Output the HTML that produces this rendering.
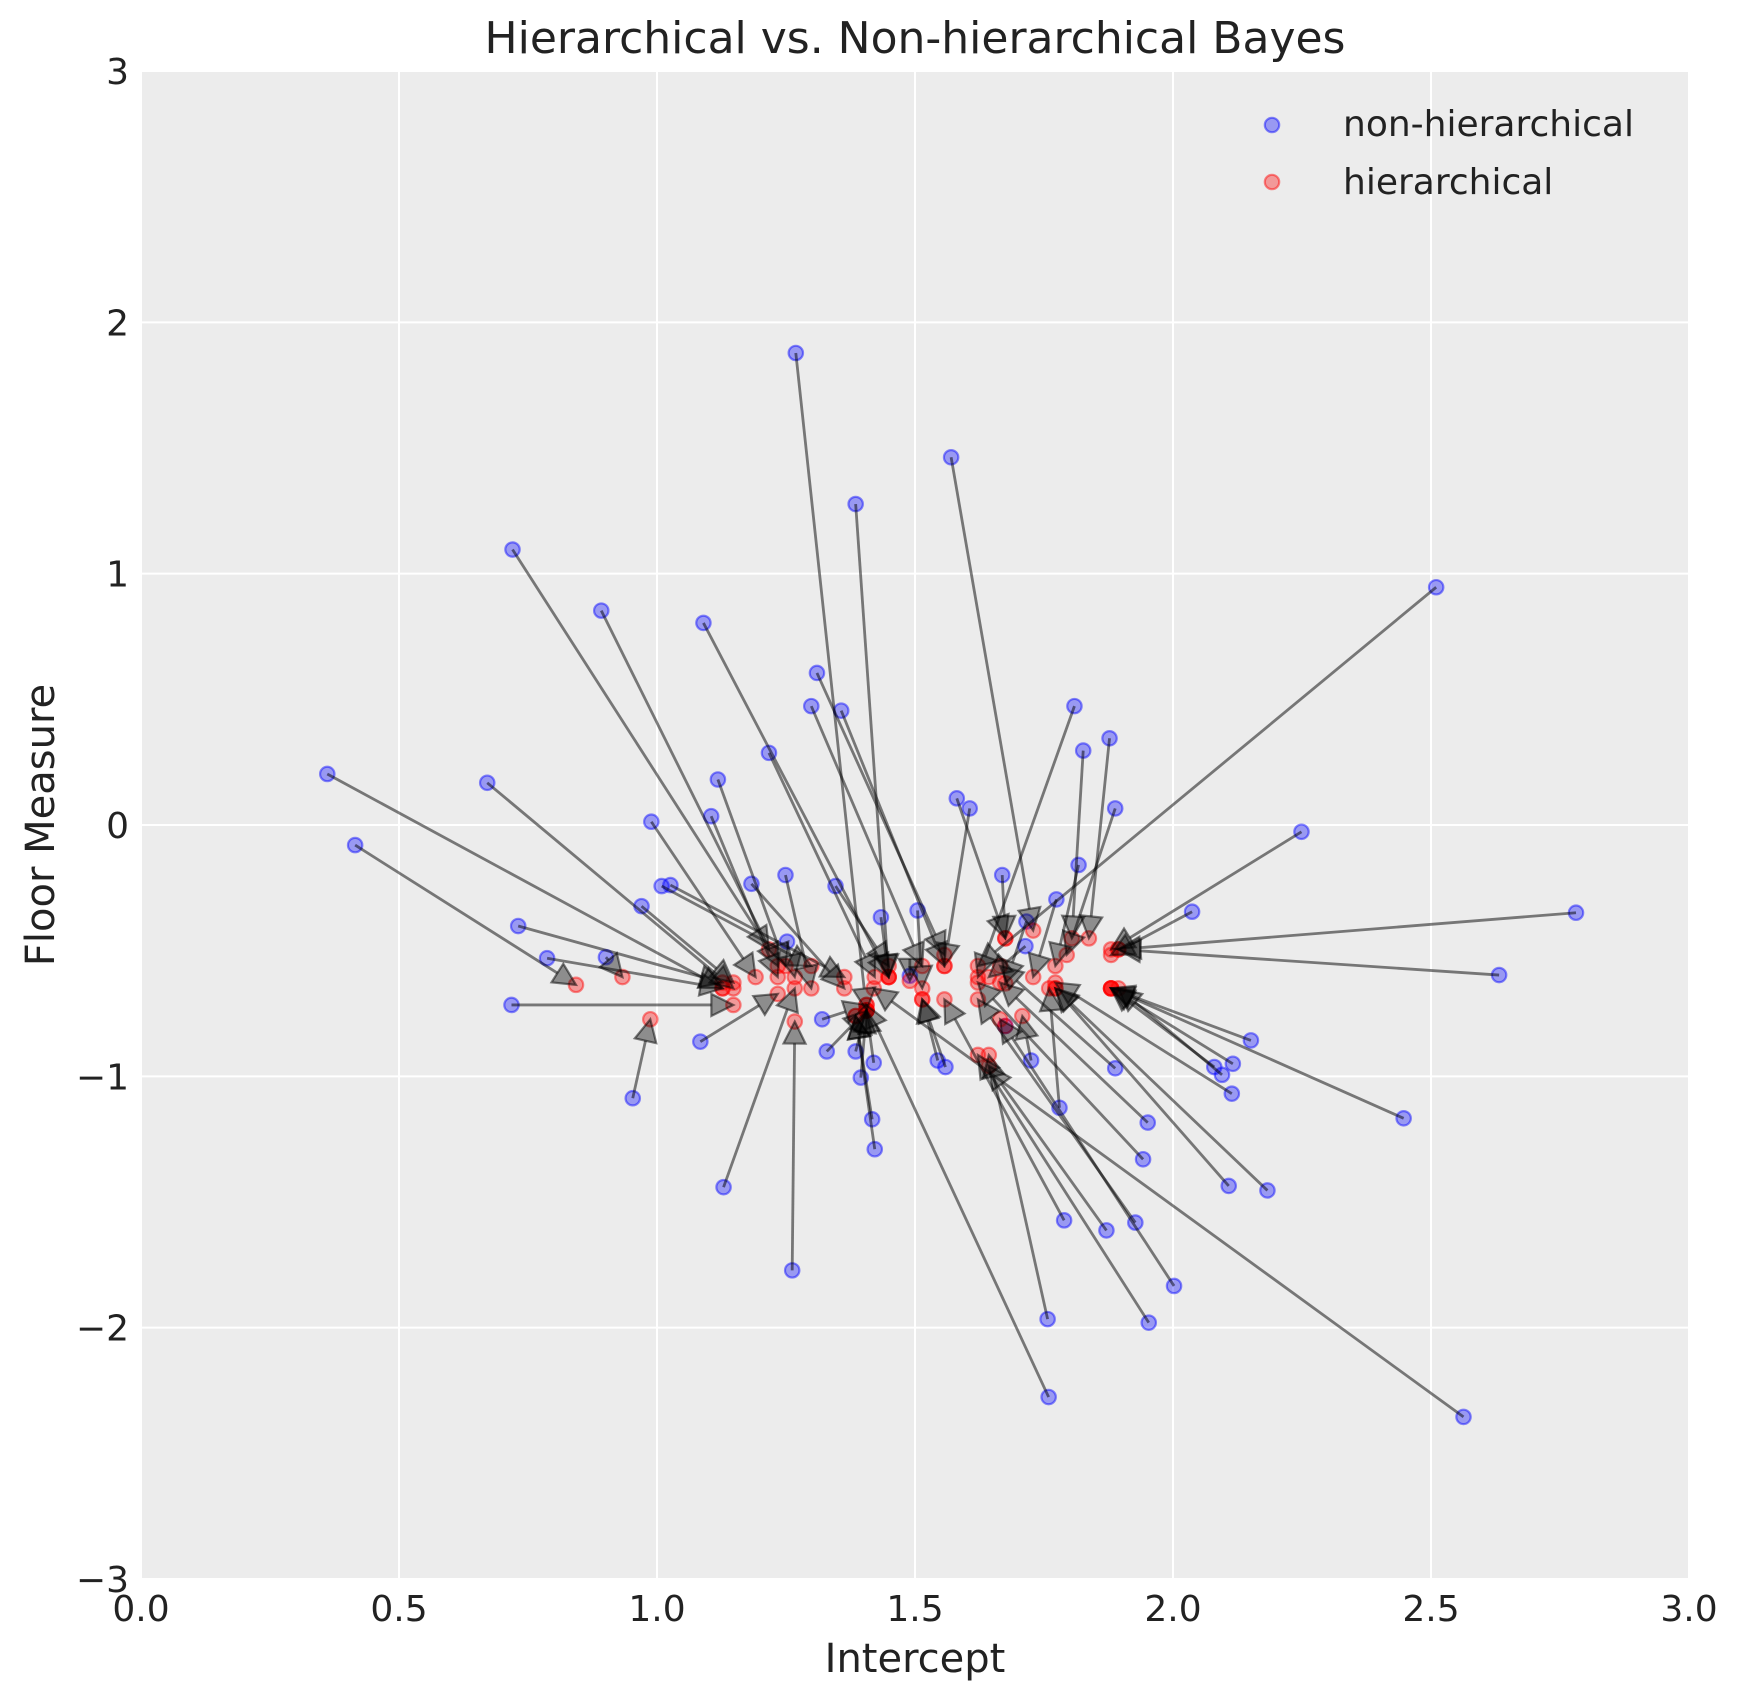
<!DOCTYPE html>
<html><head><meta charset="utf-8"><style>
body{margin:0;background:#fff;font-family:"Liberation Sans","DejaVu Sans",sans-serif;}
</style></head><body>
<svg id="chart" width="1741" height="1701" xmlns="http://www.w3.org/2000/svg" font-family="DejaVu Sans, Liberation Sans, sans-serif"></svg>
<script>
const nhX=[1.269,1.570,1.385,0.720,0.892,1.090,2.510,1.310,1.299,1.357,0.361,0.415,0.671,0.731,0.787,0.901,0.718,0.953,0.989,0.970,1.009,1.026,1.105,1.118,1.217,1.183,1.249,1.252,1.346,1.434,1.505,1.581,1.606,1.669,1.809,1.826,1.877,1.888,1.817,1.774,2.249,2.037,2.781,2.632,2.447,2.151,2.116,2.095,2.080,2.114,2.183,2.108,1.951,1.888,1.942,2.002,1.927,1.953,1.871,1.789,1.757,1.759,2.563,1.129,1.262,1.084,1.422,1.417,1.329,1.385,1.544,1.559,1.725,1.716,1.714,1.320,1.395,1.420,1.780,1.675,1.490];
const nhY=[1.878,1.463,1.277,1.096,0.853,0.804,0.946,0.605,0.473,0.455,0.203,-0.080,0.168,-0.402,-0.530,-0.526,-0.716,-1.087,0.013,-0.323,-0.243,-0.239,0.035,0.181,0.287,-0.234,-0.199,-0.464,-0.243,-0.367,-0.340,0.106,0.066,-0.199,0.473,0.296,0.345,0.066,-0.159,-0.296,-0.027,-0.345,-0.349,-0.597,-1.167,-0.857,-0.950,-0.994,-0.963,-1.069,-1.454,-1.436,-1.184,-0.968,-1.330,-1.834,-1.582,-1.980,-1.613,-1.573,-1.966,-2.276,-2.355,-1.441,-1.772,-0.862,-1.290,-1.171,-0.901,-0.901,-0.937,-0.963,-0.937,-0.384,-0.482,-0.773,-1.005,-0.946,-1.125,-0.800,-0.600];
const hX=[1.406,1.729,1.449,1.217,1.234,1.449,1.622,1.557,1.514,1.557,1.127,0.843,1.148,1.127,1.127,0.933,1.148,0.987,1.191,1.148,1.299,1.363,1.234,1.249,1.422,1.363,1.299,1.267,1.449,1.449,1.514,1.675,1.557,1.675,1.622,1.804,1.837,1.794,1.772,1.729,1.880,1.880,1.894,1.894,1.880,1.880,1.880,1.894,1.880,1.772,1.772,1.772,1.665,1.665,1.622,1.665,1.622,1.622,1.643,1.557,1.643,1.406,1.420,1.267,1.267,1.234,1.385,1.385,1.406,1.406,1.514,1.514,1.708,1.675,1.643,1.406,1.406,1.406,1.760,1.675,1.490];
const hY=[-0.738,-0.420,-0.605,-0.495,-0.561,-0.605,-0.561,-0.517,-0.561,-0.561,-0.650,-0.636,-0.650,-0.627,-0.650,-0.605,-0.716,-0.773,-0.605,-0.627,-0.561,-0.605,-0.605,-0.561,-0.605,-0.650,-0.650,-0.605,-0.561,-0.605,-0.650,-0.451,-0.561,-0.451,-0.605,-0.451,-0.451,-0.517,-0.561,-0.605,-0.495,-0.517,-0.495,-0.495,-0.650,-0.650,-0.650,-0.650,-0.650,-0.627,-0.650,-0.650,-0.627,-0.561,-0.627,-0.773,-0.694,-0.915,-0.959,-0.694,-0.915,-0.716,-0.650,-0.650,-0.782,-0.672,-0.760,-0.760,-0.738,-0.738,-0.694,-0.694,-0.760,-0.630,-0.605,-0.716,-0.738,-0.738,-0.650,-0.800,-0.620];
const xTicks=[0,0.5,1,1.5,2,2.5,3];
const xTickLabels=["0.0","0.5","1.0","1.5","2.0","2.5","3.0"];
const yTicks=[-3,-2,-1,0,1,2,3];
const yTickLabels=["\u22123","\u22122","\u22121","0","1","2","3"];

const svg=document.getElementById('chart');
const NS='http://www.w3.org/2000/svg';
const L=141,R=1689,T=71,B=1579;
const sx=v=>L+(v-0)/3*(R-L);
const sy=v=>T+(3-v)/6*(B-T);
function mk(tag,attrs,parent){const e=document.createElementNS(NS,tag);for(const k in attrs)e.setAttribute(k,attrs[k]);(parent||svg).appendChild(e);return e;}

const bg=mk('rect',{x:L,y:T,width:R-L,height:B-T,fill:'#ececec'});


const grid=mk('g',{});


xTicks.forEach((t,i)=>{
  mk('line',{x1:sx(t),x2:sx(t),y1:T,y2:B,stroke:'#fff','stroke-width':2},grid);
  const tx=mk('text',{x:sx(t),y:1621,'font-size':36,'text-anchor':'middle',fill:'#222'});
  tx.textContent=xTickLabels[i];
  
  
});
yTicks.forEach((t,i)=>{
  mk('line',{x1:L,x2:R,y1:sy(t),y2:sy(t),stroke:'#fff','stroke-width':2},grid);
  const tx=mk('text',{x:L-12,y:sy(t)+13,'font-size':36,'text-anchor':'end',fill:'#222'});
  tx.textContent=yTickLabels[i];
  
  
});

const gB=mk('g',{});


nhX.forEach((x,i)=>{
  const c=mk('circle',{cx:sx(x),cy:sy(nhY[i]),r:7.2,fill:'rgba(0,0,255,0.35)',stroke:'rgba(0,0,255,0.45)','stroke-width':2.2},gB);
  
  
});
const gR=mk('g',{});


hX.forEach((x,i)=>{
  const c=mk('circle',{cx:sx(x),cy:sy(hY[i]),r:7.2,fill:'rgba(255,0,0,0.35)',stroke:'rgba(255,0,0,0.45)','stroke-width':2.2},gR);
  
  
});
const gA=mk('g',{});


nhX.forEach((x,i)=>{
  const x1=sx(x),y1=sy(nhY[i]),x2=sx(hX[i]),y2=sy(hY[i]);
  const dx=x2-x1,dy=y2-y1,len=Math.hypot(dx,dy)||1;
  const ux=dx/len,uy=dy/len,px=-uy,py=ux;
  const hl=22,hw=11;
  const bx=x2-ux*hl,by=y2-uy*hl;
  const ln=mk('line',{x1:x1,y1:y1,x2:bx,y2:by,stroke:'rgba(0,0,0,0.5)','stroke-width':2.8},gA);
  
  
  const hd=mk('polygon',{points:`${x2},${y2} ${bx+px*hw},${by+py*hw} ${bx-px*hw},${by-py*hw}`,fill:'rgba(0,0,0,0.4)',stroke:'rgba(0,0,0,0.5)','stroke-width':2.2},gA);
  
  
});

const title=mk('text',{x:(L+R)/2,y:53,'font-size':44,'text-anchor':'middle',fill:'#222'});
title.textContent='Hierarchical vs. Non-hierarchical Bayes';


const xl=mk('text',{x:(L+R)/2,y:1672,'font-size':40,'text-anchor':'middle',fill:'#222'});
xl.textContent='Intercept';


const yl=mk('text',{x:0,y:0,'font-size':40,'text-anchor':'middle',fill:'#222',transform:`translate(54,${(T+B)/2}) rotate(-90)`});
yl.textContent='Floor Measure';



const leg=mk('g',{});


[['non-hierarchical','0,0,255',125,136],['hierarchical','255,0,0',182,194]].forEach(([lab,col,y,ty])=>{
  const c=mk('circle',{cx:1272,cy:y,r:7.2,fill:`rgba(${col},0.35)`,stroke:`rgba(${col},0.45)`,'stroke-width':2.2},leg);
  
  
  const t=mk('text',{x:1343,y:ty,'font-size':36,fill:'#222'},leg);
  t.textContent=lab;
  
  
});
</script>
</body></html>
